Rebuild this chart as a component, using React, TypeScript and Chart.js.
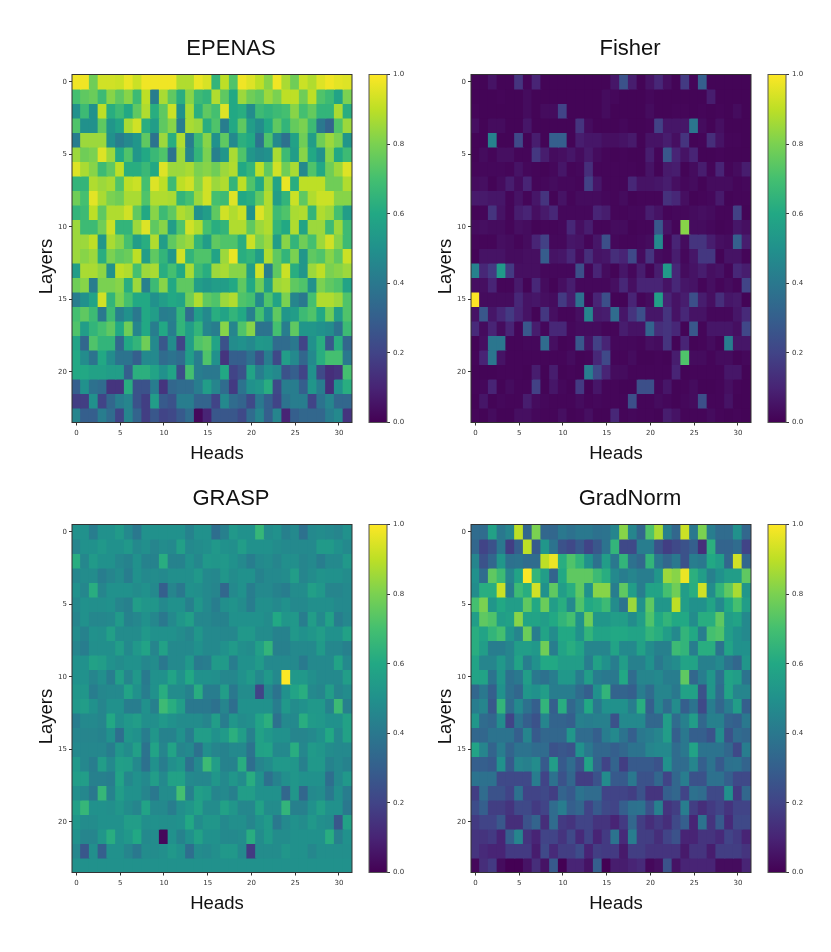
import React, { useEffect, useRef } from "react";
import { Chart, registerables } from "chart.js";

Chart.register(...registerables);

const viridisStops = ["#440154", "#482475", "#414487", "#355f8d", "#2a788e", "#21918c", "#22a884", "#44bf70", "#7ad151", "#bddf26", "#fde725"];

const epenasValues = [
  [.98,.98,.78,.93,.93,.92,.97,.92,.98,.98,.98,.98,.88,.88,.97,.94,.65,.9,.72,.98,.95,.9,.82,.98,.87,.78,.92,.88,.95,.98,.96,.95],
  [.7,.75,.77,.68,.82,.75,.82,.68,.9,.42,.87,.75,.62,.82,.68,.65,.88,.75,.6,.85,.78,.75,.85,.8,.9,.9,.78,.9,.72,.68,.58,.8],
  [.5,.68,.5,.9,.62,.68,.6,.75,.88,.62,.75,.92,.5,.87,.63,.75,.7,.95,.6,.62,.48,.68,.65,.68,.7,.82,.7,.76,.65,.65,.87,.62],
  [.72,.5,.5,.75,.52,.58,.87,.93,.62,.55,.75,.82,.42,.87,.85,.62,.72,.42,.6,.75,.55,.48,.6,.75,.65,.76,.8,.68,.4,.32,.72,.85],
  [.42,.85,.85,.85,.5,.42,.47,.52,.75,.38,.85,.62,.88,.42,.68,.82,.5,.75,.47,.63,.6,.38,.72,.47,.37,.57,.78,.55,.78,.85,.8,.52],
  [.85,.78,.8,.95,.85,.6,.72,.52,.6,.67,.72,.38,.85,.45,.65,.8,.43,.52,.87,.72,.52,.48,.5,.87,.68,.55,.82,.6,.5,.82,.6,.68],
  [.95,.87,.82,.68,.75,.9,.62,.62,.67,.6,.95,.85,.85,.87,.8,.82,.78,.85,.88,.6,.65,.9,.75,.93,.78,.87,.47,.72,.6,.78,.85,.95],
  [.65,.65,.88,.85,.87,.72,.9,.92,.7,.95,.9,.68,.9,.93,.82,.93,.85,.88,.65,.9,.72,.6,.85,.58,.97,.62,.9,.9,.9,.78,.78,.88],
  [.78,.7,.96,.87,.8,.78,.87,.87,.72,.88,.88,.87,.65,.7,.85,.93,.7,.68,.95,.6,.62,.75,.88,.55,.65,.92,.75,.88,.92,.92,.82,.82],
  [.65,.68,.9,.75,.88,.88,.93,.75,.6,.82,.68,.75,.88,.85,.5,.55,.75,.93,.88,.92,.5,.95,.88,.68,.72,.87,.88,.65,.88,.85,.7,.55],
  [.85,.68,.68,.78,.92,.65,.65,.85,.95,.75,.82,.55,.72,.93,.88,.7,.62,.65,.88,.88,.75,.85,.88,.65,.6,.88,.58,.85,.85,.68,.85,.68],
  [.85,.85,.9,.52,.87,.82,.7,.55,.62,.88,.55,.75,.82,.85,.65,.55,.75,.72,.72,.62,.92,.8,.85,.55,.82,.65,.78,.7,.85,.93,.82,.68],
  [.85,.82,.85,.62,.8,.75,.77,.9,.55,.75,.65,.52,.93,.65,.72,.72,.58,.85,.97,.62,.65,.55,.88,.75,.65,.8,.52,.75,.72,.82,.75,.92],
  [.55,.87,.87,.83,.5,.9,.88,.7,.85,.87,.62,.7,.6,.87,.68,.62,.85,.87,.82,.82,.55,.93,.42,.75,.92,.62,.52,.85,.9,.8,.82,.85],
  [.78,.82,.42,.8,.8,.82,.62,.85,.43,.68,.82,.6,.75,.75,.55,.52,.55,.55,.6,.75,.6,.78,.55,.85,.87,.75,.72,.5,.8,.75,.72,.58],
  [.42,.5,.58,.93,.65,.8,.7,.6,.6,.5,.55,.6,.58,.78,.88,.75,.72,.85,.88,.72,.7,.47,.72,.58,.8,.45,.4,.7,.88,.88,.85,.72],
  [.7,.75,.68,.4,.68,.43,.5,.4,.6,.55,.42,.43,.65,.35,.55,.47,.62,.58,.65,.6,.43,.7,.5,.75,.52,.55,.68,.72,.6,.78,.55,.72],
  [.72,.55,.65,.7,.75,.6,.78,.45,.6,.42,.6,.42,.65,.55,.65,.45,.42,.82,.45,.72,.82,.38,.38,.7,.42,.75,.52,.52,.5,.48,.38,.68],
  [.58,.33,.72,.65,.65,.33,.6,.65,.78,.47,.27,.48,.2,.55,.72,.75,.58,.25,.48,.5,.47,.53,.52,.35,.35,.4,.2,.5,.62,.27,.62,.33],
  [.6,.48,.38,.6,.48,.38,.38,.3,.47,.47,.35,.38,.35,.55,.42,.72,.5,.15,.3,.3,.37,.25,.42,.22,.55,.47,.33,.47,.62,.7,.7,.4],
  [.6,.6,.57,.57,.55,.55,.3,.63,.63,.58,.5,.58,.23,.7,.42,.4,.4,.6,.2,.25,.58,.42,.5,.47,.25,.3,.2,.5,.22,.13,.15,.7],
  [.3,.5,.37,.35,.15,.15,.62,.25,.25,.42,.15,.33,.35,.35,.42,.55,.45,.35,.17,.38,.5,.52,.62,.22,.42,.42,.3,.52,.42,.13,.5,.62],
  [.18,.18,.5,.2,.33,.42,.45,.25,.18,.55,.28,.25,.42,.42,.32,.32,.2,.47,.35,.32,.22,.4,.3,.2,.38,.42,.42,.2,.38,.45,.33,.33],
  [.45,.3,.3,.42,.35,.2,.45,.32,.18,.27,.2,.22,.28,.35,.02,.1,.27,.27,.27,.22,.35,.45,.3,.45,.1,.3,.33,.33,.33,.42,.47,.15],
];

const fisherValues = [
  [.01,.01,.05,.01,.01,.15,.015,.1,.01,.01,.01,.01,.01,.01,.01,.01,.06,.25,.08,.01,.05,.11,.04,.01,.17,.015,.3,.01,.01,.01,.01,.01],
  [.01,.01,.01,.015,.01,.01,.03,.01,.01,.01,.01,.01,.01,.01,.01,.03,.02,.01,.01,.01,.02,.01,.01,.01,.01,.01,.01,.08,.01,.01,.01,.01],
  [.015,.01,.01,.01,.01,.01,.03,.01,.03,.03,.2,.01,.01,.01,.01,.03,.01,.01,.01,.01,.03,.01,.01,.015,.015,.01,.015,.01,.015,.01,.03,.01],
  [.04,.01,.03,.03,.01,.01,.06,.01,.01,.01,.01,.01,.15,.03,.01,.01,.01,.02,.01,.01,.015,.19,.06,.06,.06,.39,.03,.01,.04,.01,.01,.01],
  [.01,.01,.44,.01,.01,.22,.01,.08,.01,.3,.3,.01,.08,.06,.06,.04,.04,.05,.07,.01,.05,.05,.08,.04,.15,.01,.015,.13,.05,.015,.015,.01],
  [.01,.03,.015,.04,.04,.015,.015,.16,.08,.03,.04,.06,.03,.07,.03,.015,.01,.015,.01,.01,.08,.015,.27,.1,.05,.1,.01,.01,.015,.01,.01,.01],
  [.015,.02,.02,.02,.015,.05,.02,.015,.01,.02,.06,.015,.02,.13,.015,.015,.015,.015,.015,.01,.05,.01,.07,.08,.01,.03,.08,.015,.1,.015,.03,.08],
  [.03,.04,.01,.03,.08,.03,.1,.015,.02,.03,.02,.02,.015,.19,.06,.015,.015,.015,.11,.05,.05,.06,.08,.04,.02,.03,.01,.03,.03,.03,.015,.02],
  [.07,.07,.06,.06,.015,.05,.015,.06,.15,.01,.05,.015,.03,.03,.03,.02,.015,.03,.01,.015,.015,.015,.14,.11,.04,.01,.015,.02,.07,.01,.015,.015],
  [.01,.015,.15,.05,.015,.08,.1,.04,.07,.11,.02,.02,.02,.02,.1,.08,.015,.015,.02,.02,.08,.05,.015,.02,.02,.03,.04,.03,.015,.015,.19,.01],
  [.03,.04,.03,.03,.015,.04,.03,.01,.015,.015,.02,.11,.04,.08,.015,.015,.03,.03,.01,.015,.015,.27,.05,.015,.82,.03,.03,.02,.01,.015,.06,.04],
  [.015,.015,.015,.04,.03,.015,.03,.1,.19,.02,.02,.06,.05,.015,.06,.24,.02,.015,.015,.02,.03,.47,.015,.1,.03,.15,.15,.08,.04,.03,.3,.08],
  [.01,.05,.05,.05,.03,.03,.04,.04,.29,.05,.06,.11,.03,.13,.05,.06,.13,.1,.22,.03,.15,.03,.02,.08,.02,.06,.16,.16,.01,.05,.05,.015],
  [.44,.11,.17,.54,.17,.04,.04,.04,.02,.02,.02,.02,.24,.015,.1,.03,.01,.06,.02,.08,.01,.08,.54,.11,.03,.05,.08,.04,.05,.015,.11,.08],
  [.04,.04,.1,.015,.015,.07,.01,.11,.03,.01,.04,.08,.02,.02,.02,.02,.04,.11,.04,.1,.1,.1,.05,.11,.06,.05,.015,.04,.015,.03,.015,.2],
  [1,.03,.03,.03,.03,.11,.05,.06,.04,.03,.17,.08,.37,.01,.1,.24,.01,.01,.1,.015,.03,.56,.1,.05,.08,.24,.08,.04,.13,.06,.07,.01],
  [.05,.27,.06,.11,.17,.1,.05,.01,.16,.04,.015,.015,.04,.45,.07,.08,.35,.06,.15,.24,.06,.06,.15,.05,.11,.05,.05,.02,.02,.02,.06,.12],
  [.12,.03,.1,.03,.1,.015,.27,.08,.02,.11,.11,.02,.03,.03,.03,.015,.015,.08,.05,.05,.32,.13,.15,.11,.01,.27,.015,.06,.06,.06,.04,.21],
  [.01,.04,.39,.39,.015,.015,.02,.02,.35,.04,.01,.015,.27,.05,.19,.1,.02,.02,.02,.015,.04,.03,.15,.01,.1,.01,.015,.03,.01,.42,.06,.06],
  [.015,.1,.39,.05,.015,.015,.015,.015,.015,.015,.015,.03,.01,.015,.11,.22,.015,.015,.03,.01,.01,.015,.01,.08,.72,.03,.03,.015,.03,.03,.01,.02],
  [.01,.01,.01,.015,.015,.015,.01,.08,.01,.08,.01,.015,.01,.42,.22,.1,.03,.03,.015,.015,.015,.015,.015,.1,.01,.015,.015,.015,.015,.06,.06,.01],
  [.015,.02,.1,.01,.03,.015,.015,.19,.01,.06,.02,.01,.17,.01,.06,.015,.015,.01,.01,.24,.24,.02,.06,.01,.015,.03,.01,.01,.015,.04,.015,.01],
  [.01,.06,.01,.02,.015,.015,.08,.03,.02,.015,.015,.015,.03,.015,.02,.015,.015,.015,.24,.015,.015,.03,.02,.01,.02,.03,.24,.015,.015,.05,.01,.01],
  [.015,.01,.03,.01,.01,.04,.04,.02,.015,.015,.04,.01,.015,.04,.01,.01,.11,.015,.02,.015,.015,.01,.08,.05,.015,.015,.015,.03,.015,.01,.015,.01],
];

const graspValues = [
  [.5,.5,.42,.5,.5,.54,.47,.4,.5,.5,.5,.5,.5,.44,.5,.5,.36,.43,.53,.5,.5,.66,.48,.5,.43,.47,.37,.47,.48,.47,.45,.5],
  [.45,.5,.5,.53,.5,.5,.53,.47,.49,.45,.48,.47,.56,.47,.48,.49,.53,.5,.49,.55,.5,.5,.5,.48,.47,.47,.47,.47,.54,.54,.5,.47],
  [.62,.46,.54,.5,.5,.46,.44,.5,.44,.44,.62,.44,.44,.5,.46,.53,.52,.53,.5,.47,.42,.47,.48,.45,.49,.49,.45,.47,.42,.47,.47,.53],
  [.46,.48,.48,.42,.45,.48,.42,.5,.47,.48,.47,.49,.49,.49,.53,.47,.46,.52,.48,.5,.5,.44,.47,.47,.48,.55,.45,.48,.51,.5,.5,.48],
  [.5,.46,.62,.45,.5,.5,.5,.48,.5,.47,.3,.45,.4,.5,.49,.47,.45,.33,.47,.5,.42,.47,.47,.44,.42,.48,.48,.56,.53,.45,.45,.47],
  [.47,.5,.49,.49,.5,.45,.43,.55,.52,.52,.47,.5,.5,.43,.52,.47,.42,.49,.51,.48,.42,.49,.49,.47,.5,.47,.47,.49,.49,.49,.47,.47],
  [.45,.5,.46,.46,.47,.54,.44,.46,.5,.46,.4,.47,.52,.56,.46,.46,.44,.44,.5,.5,.5,.5,.48,.6,.52,.53,.42,.55,.47,.57,.42,.46],
  [.48,.44,.5,.49,.56,.48,.48,.48,.53,.5,.5,.5,.48,.45,.52,.47,.47,.46,.46,.53,.53,.48,.48,.44,.44,.53,.5,.52,.55,.5,.5,.57],
  [.45,.42,.49,.49,.49,.55,.47,.53,.58,.45,.57,.47,.47,.47,.5,.47,.47,.5,.54,.49,.48,.56,.65,.43,.43,.47,.47,.47,.54,.46,.46,.43],
  [.5,.5,.57,.55,.5,.48,.5,.5,.46,.48,.4,.47,.47,.53,.41,.42,.54,.54,.42,.5,.5,.54,.47,.47,.47,.47,.41,.47,.47,.47,.58,.47],
  [.5,.5,.45,.49,.42,.56,.45,.53,.41,.5,.5,.58,.5,.6,.5,.5,.49,.46,.46,.5,.54,.47,.53,.47,1,.53,.53,.49,.47,.47,.47,.55],
  [.52,.52,.42,.46,.47,.47,.58,.5,.42,.5,.62,.48,.48,.44,.62,.42,.42,.55,.4,.48,.48,.2,.46,.38,.5,.58,.62,.47,.45,.55,.45,.48],
  [.53,.55,.5,.45,.5,.5,.42,.42,.5,.43,.68,.62,.55,.4,.4,.4,.37,.45,.36,.5,.5,.5,.5,.42,.53,.48,.5,.53,.53,.44,.68,.43],
  [.42,.47,.47,.45,.6,.49,.53,.55,.49,.49,.53,.5,.48,.48,.48,.45,.55,.42,.52,.48,.49,.58,.63,.37,.47,.47,.62,.54,.53,.5,.5,.57],
  [.45,.45,.45,.44,.5,.36,.52,.5,.42,.52,.44,.44,.5,.42,.55,.55,.5,.54,.63,.55,.43,.57,.53,.5,.5,.45,.45,.47,.5,.6,.47,.57],
  [.47,.46,.46,.46,.42,.52,.48,.56,.38,.58,.45,.58,.45,.47,.37,.49,.45,.44,.47,.47,.38,.57,.58,.47,.47,.62,.46,.54,.52,.48,.47,.47],
  [.53,.46,.42,.55,.47,.56,.55,.47,.37,.5,.42,.49,.52,.37,.47,.68,.55,.44,.44,.62,.36,.45,.48,.53,.53,.52,.43,.53,.53,.44,.47,.44],
  [.55,.55,.43,.43,.42,.58,.46,.5,.47,.55,.47,.57,.57,.47,.46,.46,.52,.47,.52,.48,.62,.5,.37,.44,.49,.52,.5,.5,.5,.36,.47,.53],
  [.49,.46,.4,.66,.44,.55,.5,.5,.45,.4,.48,.48,.7,.43,.56,.54,.45,.47,.43,.55,.55,.5,.5,.5,.33,.52,.33,.47,.48,.4,.49,.42],
  [.56,.66,.5,.5,.49,.52,.48,.45,.58,.47,.47,.42,.49,.52,.57,.48,.48,.57,.52,.46,.46,.57,.48,.48,.65,.43,.43,.5,.56,.5,.5,.4],
  [.52,.48,.48,.5,.5,.5,.55,.55,.49,.5,.49,.49,.5,.6,.48,.52,.52,.47,.49,.49,.45,.5,.54,.4,.47,.5,.48,.53,.49,.48,.27,.57],
  [.5,.45,.45,.52,.62,.5,.53,.6,.47,.48,.02,.5,.44,.5,.57,.5,.5,.47,.47,.48,.62,.48,.54,.48,.48,.5,.5,.5,.5,.62,.43,.5],
  [.46,.27,.49,.3,.5,.5,.45,.4,.48,.48,.49,.53,.5,.36,.48,.47,.49,.53,.53,.47,.17,.48,.48,.48,.52,.5,.5,.46,.49,.49,.49,.49],
  [.5,.5,.5,.5,.5,.5,.5,.5,.5,.5,.5,.5,.5,.5,.5,.5,.5,.5,.5,.5,.5,.5,.5,.5,.5,.5,.5,.5,.5,.5,.5,.5],
];

const gradnormValues = [
  [.35,.35,.57,.4,.45,.9,.33,.8,.33,.33,.4,.37,.4,.4,.37,.38,.45,.82,.45,.33,.72,.87,.43,.33,.92,.4,.8,.42,.35,.35,.5,.33],
  [.33,.2,.25,.4,.18,.3,.9,.28,.52,.38,.25,.22,.28,.2,.27,.38,.65,.22,.22,.42,.42,.25,.18,.22,.25,.3,.13,.63,.32,.32,.35,.2],
  [.45,.25,.33,.52,.37,.38,.35,.35,.9,.97,.62,.72,.65,.5,.37,.55,.4,.65,.37,.33,.65,.4,.33,.4,.25,.42,.4,.6,.55,.33,.93,.33],
  [.5,.35,.75,.68,.45,.58,1,.65,.55,.32,.6,.75,.75,.75,.68,.62,.47,.42,.45,.42,.42,.52,.85,.82,.97,.63,.55,.43,.5,.55,.55,.75],
  [.48,.62,.62,.92,.42,.68,.62,.93,.5,.75,.55,.62,.75,.5,.82,.82,.42,.75,.55,.42,.58,.58,.7,.78,.55,.62,.93,.48,.65,.75,.87,.52],
  [.7,.8,.52,.6,.55,.55,.75,.6,.77,.55,.62,.47,.72,.6,.62,.68,.48,.38,.85,.5,.75,.52,.52,.9,.55,.5,.5,.58,.47,.6,.7,.55],
  [.55,.75,.72,.55,.57,.82,.58,.58,.55,.6,.65,.7,.5,.78,.52,.52,.55,.55,.48,.55,.72,.6,.65,.6,.6,.48,.62,.62,.75,.55,.58,.47],
  [.62,.58,.65,.7,.52,.45,.77,.42,.58,.48,.6,.6,.5,.65,.58,.58,.6,.6,.58,.58,.65,.62,.55,.47,.65,.6,.42,.7,.72,.55,.5,.47],
  [.62,.55,.42,.42,.45,.55,.55,.53,.78,.42,.58,.62,.58,.45,.45,.45,.58,.47,.47,.57,.48,.43,.43,.68,.65,.42,.62,.62,.38,.58,.5,.5],
  [.58,.45,.45,.53,.45,.58,.42,.5,.6,.6,.55,.55,.55,.42,.57,.5,.42,.55,.43,.43,.5,.4,.45,.48,.58,.58,.43,.43,.47,.38,.33,.52],
  [.58,.58,.38,.52,.37,.4,.55,.4,.37,.42,.53,.53,.42,.55,.42,.4,.4,.6,.35,.45,.45,.47,.42,.42,.75,.33,.42,.52,.37,.58,.55,.38],
  [.33,.4,.3,.5,.37,.33,.52,.5,.55,.42,.42,.42,.35,.3,.5,.65,.32,.32,.3,.42,.35,.45,.45,.4,.57,.57,.25,.52,.35,.58,.45,.45],
  [.42,.45,.27,.65,.35,.47,.37,.3,.65,.3,.62,.33,.4,.6,.4,.5,.5,.5,.42,.62,.3,.45,.35,.48,.3,.38,.22,.42,.33,.42,.55,.3],
  [.52,.35,.33,.48,.2,.38,.3,.25,.45,.32,.32,.3,.43,.42,.43,.43,.25,.47,.47,.47,.33,.33,.55,.35,.43,.55,.33,.43,.43,.32,.3,.4],
  [.33,.33,.38,.38,.38,.3,.45,.28,.33,.33,.33,.52,.35,.35,.3,.42,.47,.38,.3,.4,.42,.45,.55,.3,.4,.3,.3,.25,.48,.25,.35,.33],
  [.58,.45,.32,.42,.32,.38,.38,.35,.35,.25,.27,.25,.5,.4,.33,.33,.3,.33,.38,.38,.45,.47,.47,.35,.4,.58,.38,.38,.38,.33,.22,.42],
  [.3,.3,.28,.5,.28,.45,.43,.48,.28,.55,.28,.35,.25,.58,.32,.2,.32,.18,.28,.28,.28,.25,.5,.35,.35,.45,.3,.38,.28,.37,.38,.32],
  [.38,.37,.37,.22,.22,.22,.22,.42,.2,.37,.25,.33,.18,.18,.25,.48,.28,.28,.4,.25,.25,.33,.2,.33,.42,.25,.25,.37,.37,.3,.22,.22],
  [.18,.35,.25,.25,.2,.37,.2,.2,.22,.18,.32,.28,.38,.35,.35,.2,.2,.2,.18,.25,.15,.15,.3,.33,.2,.37,.35,.22,.22,.5,.17,.33],
  [.23,.3,.18,.18,.15,.22,.22,.17,.2,.35,.42,.3,.33,.2,.28,.22,.2,.3,.37,.38,.25,.43,.15,.18,.42,.18,.13,.17,.2,.15,.2,.2],
  [.17,.2,.2,.27,.13,.13,.25,.32,.13,.35,.17,.15,.2,.2,.15,.15,.1,.17,.33,.18,.13,.17,.13,.22,.3,.1,.38,.15,.28,.12,.22,.22],
  [.15,.15,.17,.1,.3,.45,.15,.1,.2,.2,.15,.22,.12,.2,.1,.17,.38,.12,.42,.18,.18,.13,.2,.25,.1,.1,.15,.15,.12,.2,.17,.1],
  [.15,.12,.1,.1,.17,.17,.17,.08,.22,.12,.18,.18,.23,.1,.18,.17,.17,.07,.18,.18,.15,.15,.15,.15,.07,.15,.15,.08,.18,.18,.18,.15],
  [.02,.13,.17,.03,0,0,.05,.13,.05,.28,0,.1,.1,.05,.3,0,.08,.08,.1,.12,.02,.04,.25,.05,.1,.1,.1,.1,.03,.03,.03,.1],
];

const panelTitles = ["EPENAS", "Fisher", "GRASP", "GradNorm"];
const panelValues = [epenasValues, fisherValues, graspValues, gradnormValues];
const xAxisLabel = "Heads";
const yAxisLabel = "Layers";

const panelOffsets = [
  { left: 30, top: 0 },
  { left: 429, top: 0 },
  { left: 30, top: 450 },
  { left: 429, top: 450 },
];

const TICK_FONT = { family: "'DejaVu Sans'", size: 7 };
const TICK_COLOR = "#333333";
const SOFTEN = "blur(0.35px)";

function hexToRgb(hex: string) {
  return [1, 3, 5].map((i) => parseInt(hex.slice(i, i + 2), 16));
}

function viridis(v: number) {
  const t = Math.max(0, Math.min(1, v)) * (viridisStops.length - 1);
  const i = Math.min(Math.floor(t), viridisStops.length - 2);
  const f = t - i;
  const a = hexToRgb(viridisStops[i]);
  const b = hexToRgb(viridisStops[i + 1]);
  const c = a.map((x, k) => Math.round(x + (b[k] - x) * f));
  return `rgb(${c[0]},${c[1]},${c[2]})`;
}

const framePlugin = (color: string) => ({
  id: "frame",
  afterDraw(chart: any) {
    const { ctx, chartArea: a } = chart;
    ctx.save();
    ctx.strokeStyle = color;
    ctx.lineWidth = 1;
    ctx.strokeRect(a.left, a.top, a.right - a.left, a.bottom - a.top);
    ctx.restore();
  },
});

const axisTextPlugin = {
  id: "axisText",
  afterDraw(chart: any) {
    const { ctx, chartArea: a } = chart;
    ctx.save();
    ctx.fillStyle = "#111111";
    ctx.font = "18.5px 'Liberation Sans'";
    ctx.textAlign = "center";
    ctx.textBaseline = "middle";
    ctx.fillText(xAxisLabel, a.left + 145, a.bottom + 31);
    ctx.translate(a.left - 25, (a.top + a.bottom) / 2 + 18);
    ctx.rotate(-Math.PI / 2);
    ctx.fillText(yAxisLabel, 0, 0);
    ctx.restore();
  },
};

const noScalePadding = (s: any) => {
  s.paddingTop = 0;
  s.paddingBottom = 0;
  s.paddingLeft = 0;
  s.paddingRight = 0;
};

function makeHeatmap(canvas: HTMLCanvasElement, title: string, rows: number[][]) {
  return new Chart(canvas, {
    type: "bar",
    data: {
      datasets: rows.map((row, r) => ({
        data: row.map((v, c) => ({ x: c, y: [r - 0.5, r + 0.5] })),
        backgroundColor: row.map((v) => viridis(v)),
        grouped: false,
        categoryPercentage: 1,
        barPercentage: 1,
        borderWidth: 0,
        inflateAmount: 0.6,
      })),
    } as any,
    options: {
      responsive: false,
      animation: false,
      events: [],
      layout: { padding: 0 },
      plugins: {
        legend: { display: false },
        tooltip: { enabled: false },
        title: {
          display: true,
          text: title,
          color: "#111111",
          font: { family: "'Liberation Sans'", size: 22, weight: "normal", lineHeight: 1 },
          padding: { top: 38, bottom: 14.5 },
        },
      },
      scales: {
        x: {
          type: "linear",
          min: -0.5,
          max: 31.5,
          offset: false,
          afterFit: (s: any) => { s.height = 39.5; noScalePadding(s); },
          grid: { display: true, offset: false, drawOnChartArea: false, drawTicks: true, tickLength: 3, tickColor: TICK_COLOR, tickWidth: 1 },
          border: { display: false },
          ticks: { stepSize: 5, includeBounds: false, maxRotation: 0, font: TICK_FONT, color: TICK_COLOR, padding: 3 },
        },
        y: {
          type: "linear",
          reverse: true,
          min: -0.5,
          max: 23.5,
          afterFit: (s: any) => { s.width = 42; noScalePadding(s); },
          grid: { display: true, drawOnChartArea: false, drawTicks: true, tickLength: 3, tickColor: TICK_COLOR, tickWidth: 1 },
          border: { display: false },
          ticks: { stepSize: 5, includeBounds: false, font: TICK_FONT, color: TICK_COLOR, padding: 2 },
        },
        spacer: {
          type: "linear",
          position: "right",
          afterFit: (s: any) => { s.width = 80; noScalePadding(s); },
          grid: { display: false },
          border: { display: false },
          ticks: { display: false },
        },
      },
    } as any,
    plugins: [framePlugin("#333333"), axisTextPlugin],
  });
}

function makeColorbar(canvas: HTMLCanvasElement) {
  return new Chart(canvas, {
    type: "bar",
    data: {
      labels: [""],
      datasets: [
        {
          data: [[0, 1]],
          categoryPercentage: 1,
          barPercentage: 1,
          borderWidth: 0,
          backgroundColor: (ctx: any) => {
            const a = ctx.chart.chartArea;
            if (!a) return viridisStops[5];
            const g = ctx.chart.ctx.createLinearGradient(0, a.bottom, 0, a.top);
            viridisStops.forEach((s, i) => g.addColorStop(i / (viridisStops.length - 1), s));
            return g;
          },
        },
      ],
    } as any,
    options: {
      responsive: false,
      animation: false,
      events: [],
      layout: { padding: { left: 2, right: 0, top: 4.5, bottom: 7.5 } },
      plugins: { legend: { display: false }, tooltip: { enabled: false }, title: { display: false } },
      scales: {
        x: { display: false },
        y: {
          position: "right",
          min: 0,
          max: 1,
          afterFit: (s: any) => { s.width = 30; noScalePadding(s); },
          grid: { display: true, drawOnChartArea: false, drawTicks: true, tickLength: 3, tickColor: TICK_COLOR, tickWidth: 1 },
          border: { display: false },
          ticks: {
            stepSize: 0.2,
            font: TICK_FONT,
            color: TICK_COLOR,
            padding: 3,
            callback: (v: any) => Number(v).toFixed(1),
          },
        },
      },
    } as any,
    plugins: [framePlugin("#555555")],
  });
}

function Panel({ index }: { index: number }) {
  const heatRef = useRef<HTMLCanvasElement>(null);
  const barRef = useRef<HTMLCanvasElement>(null);
  const o = panelOffsets[index];

  useEffect(() => {
    const heat = makeHeatmap(heatRef.current!, panelTitles[index], panelValues[index]);
    const bar = makeColorbar(barRef.current!);
    return () => {
      heat.destroy();
      bar.destroy();
    };
  }, [index]);

  return (
    <>
      <canvas ref={heatRef} width={402} height={462} style={{ position: "absolute", left: o.left, top: o.top, width: 402, height: 462, filter: SOFTEN }} />
      <canvas ref={barRef} width={50} height={360} style={{ position: "absolute", left: o.left + 337, top: o.top + 70, width: 50, height: 360, filter: SOFTEN }} />
    </>
  );
}

export default function App() {
  return (
    <div style={{ position: "absolute", left: 0, top: 0, width: 831, height: 952, background: "#ffffff", overflow: "hidden" }}>
      {panelTitles.map((t, i) => (
        <Panel key={t} index={i} />
      ))}
    </div>
  );
}
